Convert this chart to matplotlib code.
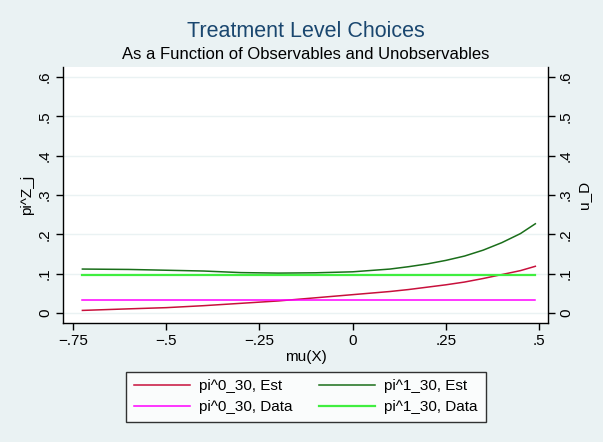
import matplotlib
matplotlib.use("Agg")
import matplotlib.pyplot as plt
import numpy as np

plt.rcParams['font.family'] = ['Liberation Sans', 'DejaVu Sans']

x = [-0.725, -0.6, -0.5, -0.4, -0.3, -0.2, -0.1, 0.0, 0.1, 0.15, 0.2, 0.25, 0.3, 0.35, 0.4, 0.45, 0.49]
pi0_est = [0.007, 0.011, 0.014, 0.019, 0.025, 0.031, 0.039, 0.047, 0.055, 0.060, 0.066, 0.072, 0.079, 0.088, 0.098, 0.108, 0.119]
pi1_est = [0.112, 0.111, 0.109, 0.107, 0.103, 0.1017, 0.1025, 0.105, 0.112, 0.118, 0.125, 0.134, 0.145, 0.160, 0.179, 0.202, 0.227]
pi0_data = 0.034
pi1_data = 0.098

yticks = [0, 0.1, 0.2, 0.3, 0.4, 0.5, 0.6]
ytick_labels = ["0", ".1", ".2", ".3", ".4", ".5", ".6"]
xticks = [-0.75, -0.5, -0.25, 0, 0.25, 0.5]
xtick_labels = ["\u2212.75", "\u2212.5", "\u2212.25", "0", ".25", ".5"]

bg = "#EAF2F3"
fs = 11
fig = plt.figure(figsize=(6.03, 4.42), dpi=100, facecolor=bg)
ax = fig.add_axes([0.1045, 0.2692, 0.8043, 0.5792])
ax.set_facecolor("white")

xa = np.array(x)
l1, = ax.plot(xa, pi0_est, color="#C8103C", lw=1.1)
l2, = ax.plot(xa, pi1_est, color="#1A6E1A", lw=1.1)
l3, = ax.plot(xa, [pi0_data]*len(xa), color="#FF00FF", lw=1.1)
l4, = ax.plot(xa, [pi1_data]*len(xa), color="#40EE40", lw=1.6)

ax.set_xlim(-0.777, 0.524)
ax.set_ylim(-0.025, 0.625)
ax.set_xticks(xticks)
ax.set_xticklabels(xtick_labels, fontsize=fs)
ax.set_yticks(yticks)
ax.set_yticklabels(ytick_labels, fontsize=fs, rotation=90, va='center')
ax.grid(axis='y', color=bg, lw=1.0)
ax.set_axisbelow(True)
for s in ['top', 'right']:
    ax.spines[s].set_visible(False)
for s in ['left', 'bottom']:
    ax.spines[s].set_linewidth(1.0)
ax.tick_params(length=5, width=1, pad=3)
ax.set_xlabel("mu(X)", fontsize=fs, labelpad=1)
ax.set_ylabel("pi^Z_j", fontsize=fs, labelpad=3)

ax2 = ax.twinx()
ax2.set_ylim(ax.get_ylim())
ax2.set_yticks(yticks)
ax2.set_yticklabels(ytick_labels, fontsize=fs, rotation=90, va='center')
for s in ['top', 'left', 'bottom']:
    ax2.spines[s].set_visible(False)
ax2.spines['right'].set_linewidth(1.0)
ax2.tick_params(length=5, width=1, pad=3)
ax2.set_ylabel("u_D", fontsize=fs, labelpad=3)

fig.text(0.507, 0.917, "Treatment Level Choices", ha='center', va='baseline',
         fontsize=15.5, color="#1A476F")
fig.text(0.507, 0.866, "As a Function of Observables and Unobservables",
         ha='center', va='baseline', fontsize=12, color="black")

leg = fig.legend([l1, l3, l2, l4],
                 ["pi^0_30, Est", "pi^0_30, Data", "pi^1_30, Est", "pi^1_30, Data"],
                 loc='center', bbox_to_anchor=(0.507, 0.102), ncol=2,
                 fontsize=fs, frameon=True, fancybox=False, handlelength=3.7,
                 columnspacing=1.7, handletextpad=0.6, borderpad=0.5,
                 labelspacing=0.45)
leg.get_frame().set_edgecolor("black")
leg.get_frame().set_linewidth(1.0)

fig.savefig("out.png", dpi=100, facecolor=bg)
